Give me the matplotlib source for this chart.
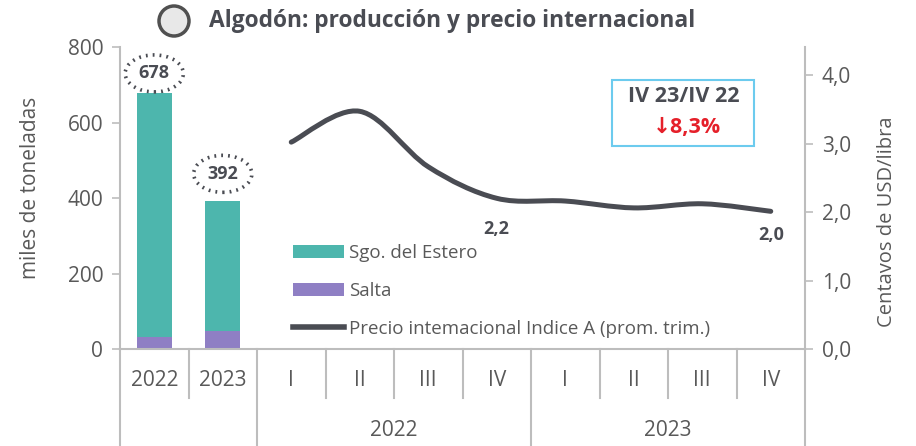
import matplotlib
matplotlib.use("Agg")
import matplotlib.pyplot as plt
from matplotlib.path import Path
from matplotlib.patches import PathPatch, Ellipse
from matplotlib.lines import Line2D
from matplotlib.patches import Patch
import matplotlib.transforms as mtrans
import numpy as np

# ---- data ----
years = ["2022", "2023"]
sgo_estero = [645, 344]
salta = [33, 48]
totals = [678, 392]
quarters = ["I", "II", "III", "IV", "I", "II", "III", "IV"]
quarter_years = ["2022", "2023"]
precio = [3.02, 3.47, 2.66, 2.20, 2.16, 2.06, 2.12, 2.01]
left_ticks = [0, 200, 400, 600, 800]
right_ticks = [0.0, 1.0, 2.0, 3.0, 4.0]

COND = ["Open Sans", "DejaVu Sans"]
BOLD = ["Open Sans", "DejaVu Sans"]
GRAY = "#595959"
DARK = "#4a4c53"
TEAL = "#4db6ad"
PURPLE = "#8f7fc4"
SPINE = "#bdbdbd"

fig = plt.figure(figsize=(9.16, 4.46), dpi=100)
ax = fig.add_axes([120/916, 1-349/446, (805-120)/916, 302/446])
ax2 = ax.twinx()

n = len(years) + len(quarters)
xb = np.arange(len(years))
ax.bar(xb, salta, width=0.51, color=PURPLE, zorder=3)
ax.bar(xb, sgo_estero, bottom=salta, width=0.51, color=TEAL, zorder=3)
ax.set_xlim(-0.5, n - 0.5)
ax.set_ylim(0, 800)
ax2.set_ylim(0, 4.0 * 302 / 274)

# smooth line through data (Catmull-Rom -> cubic bezier)
xq = np.arange(len(years), n).astype(float)
yq = np.array(precio)
P = np.column_stack([xq, yq])
verts = [P[0]]
codes = [Path.MOVETO]
for i in range(len(P) - 1):
    p0 = P[i - 1] if i > 0 else P[i]
    p1 = P[i]
    p2 = P[i + 1]
    p3 = P[i + 2] if i + 2 < len(P) else P[i + 1]
    c1 = p1 + (p2 - p0) / 6
    c2 = p2 - (p3 - p1) / 6
    verts += [c1, c2, p2]
    codes += [Path.CURVE4] * 3
ax2.add_patch(PathPatch(Path(verts, codes), fill=False, edgecolor=DARK, lw=3.6,
                        capstyle="round", zorder=4))

# spines & ticks
for a in (ax, ax2):
    a.spines["top"].set_visible(False)
    a.spines["bottom"].set_visible(False)
ax.spines["left"].set_color(SPINE); ax.spines["left"].set_linewidth(1.5)
ax.spines["right"].set_visible(False)
ax2.spines["left"].set_visible(False)
ax2.spines["right"].set_color(SPINE); ax2.spines["right"].set_linewidth(1.5)

ax.set_yticks(left_ticks)
ax.set_yticklabels([str(v) for v in left_ticks], fontfamily=COND, fontsize=15, color=GRAY)
ax.tick_params(axis="y", length=6, width=1.2, color=SPINE, pad=6)
ax2.set_yticks(right_ticks)
ax2.set_yticklabels([f"{v:.1f}".replace(".", ",") for v in right_ticks],
                    fontfamily=COND, fontsize=15, color=GRAY)
ax2.tick_params(axis="y", length=6, width=1.2, color=SPINE, pad=6)
ax.set_xticks([])

fig.text(31/916, 1 - 188/446, "miles de toneladas", rotation=90, ha="center", va="center",
         fontfamily=COND, fontsize=15, color=GRAY)
fig.text(887/916, 1 - 222/446, "Centavos de USD/libra", rotation=90, ha="center", va="center",
         fontfamily=COND, fontsize=14.5, color=GRAY)

# category axis
tr = mtrans.blended_transform_factory(ax.transData, ax.transAxes)
ax.plot([-0.5, n - 0.5], [0, 0], transform=tr, color=SPINE, lw=1.5, clip_on=False, zorder=5)
long_seps = [-0.5, 1.5, 5.5, 9.5]
short_seps = [0.5, 2.5, 3.5, 4.5, 6.5, 7.5, 8.5]
y_short = (349 - 398) / 302
y_long = (349 - 452) / 302
for s in long_seps:
    ax.plot([s, s], [0, y_long], transform=tr, color=SPINE, lw=1.5, clip_on=False)
for s in short_seps:
    ax.plot([s, s], [0, y_short], transform=tr, color=SPINE, lw=1.5, clip_on=False)
labels = years + quarters
for i, lab in enumerate(labels):
    ax.text(i, (349 - 381) / 302, lab, transform=tr, ha="center", va="center",
            fontfamily=COND, fontsize=15, color=GRAY)
for j, yl in enumerate(quarter_years):
    xc = len(years) + 4 * j + 1.5
    ax.text(xc, (349 - 430) / 302, yl, transform=tr, ha="center", va="center",
            fontfamily=COND, fontsize=15, color=GRAY)

# total labels with dotted ellipses
label_offsets = [52, 72]
for i, t in enumerate(totals):
    yc = t + label_offsets[i]
    ax.add_patch(Ellipse((i, yc), 0.85, 98, fill=False, edgecolor=DARK, lw=2.6,
                         linestyle=(0, (0.5, 1.4)), zorder=5, clip_on=False))
    ax.text(i, yc, str(t), ha="center", va="center", fontfamily=BOLD,
            fontweight="bold", fontsize=13, color=DARK, zorder=6)

# line data labels
ax2.text(len(years) + 3, precio[3] - 0.45, "2,2", ha="center", va="center",
         fontfamily=BOLD, fontweight="bold", fontsize=13, color=DARK)
ax2.text(n - 1, precio[-1] - 0.35, "2,0", ha="center", va="center",
         fontfamily=BOLD, fontweight="bold", fontsize=13, color=DARK)

# variation box
bx0, by0, bw, bh = 612/916, 1 - 146/446, 142/916, 66/446
fig.patches.append(plt.Rectangle((bx0, by0), bw, bh, transform=fig.transFigure,
                                 fill=True, facecolor="white", edgecolor="#6ccbee", lw=1.5))
fig.text(684/916, 1 - 96/446, "IV 23/IV 22", ha="center", va="center",
         fontfamily=BOLD, fontweight="bold", fontsize=15.5, color=DARK)
fig.text(687/916, 1 - 127/446, "↓8,3%", ha="center", va="center",
         fontfamily=BOLD, fontweight="bold", fontsize=15.5, color="#e5202a")

# title
circ = Ellipse((174/916, 1 - 21/446), 30/916, 30/446, transform=fig.transFigure,
               facecolor="#e8e8e8", edgecolor="#505050", lw=2.5)
fig.patches.append(circ)
fig.text(209/916, 1 - 21/446, "Algodón: producción y precio internacional",
         ha="left", va="center", fontfamily=BOLD, fontweight="bold",
         fontsize=16.4, color=DARK)

# legend
handles = [Patch(facecolor=TEAL, edgecolor="none"),
           Patch(facecolor=PURPLE, edgecolor="none"),
           Line2D([0], [0], color=DARK, lw=4)]
leg = ax.legend(handles, ["Sgo. del Estero", "Salta",
                          "Precio intemacional Indice A (prom. trim.)"],
                loc="upper left", bbox_to_anchor=((282 - 120) / 685, 1 - (233 - 47) / 302),
                bbox_transform=ax.transAxes, frameon=False, handlelength=2.7,
                handleheight=0.7, handletextpad=0.25, labelspacing=1.05,
                borderaxespad=0.2, prop={"family": COND, "size": 13.5})
for t in leg.get_texts():
    t.set_color(GRAY)
leg.set_zorder(10)

fig.savefig("out.png", dpi=100)
